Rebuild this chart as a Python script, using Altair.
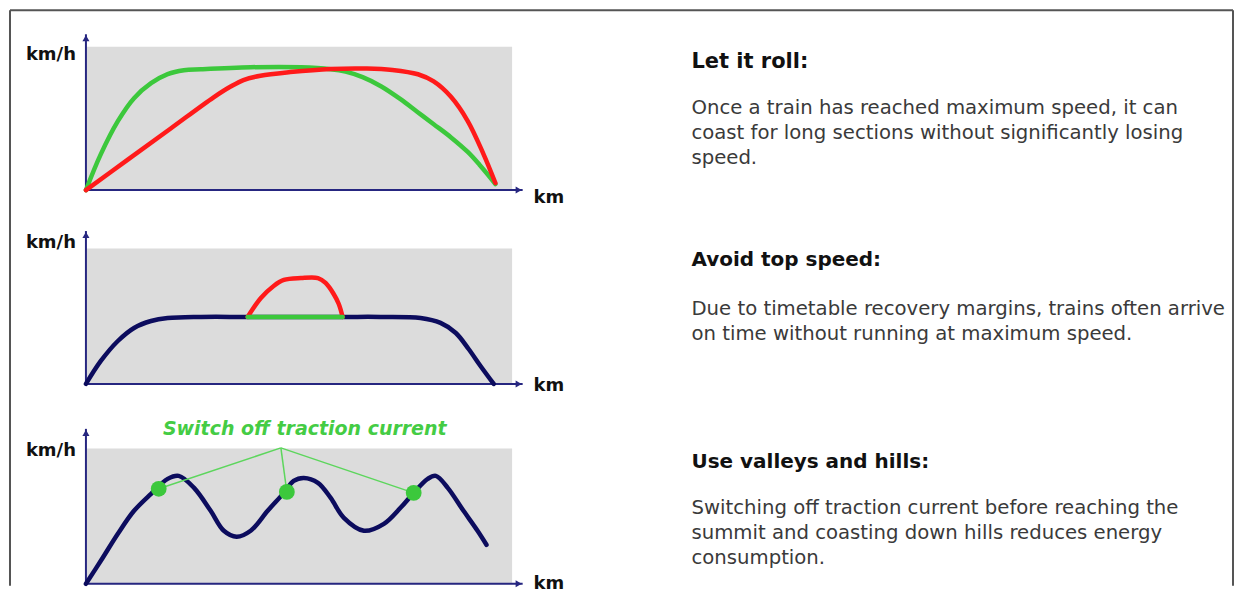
import altair as alt
import pandas as pd

# ---------------- data ----------------
# Panel 1: "Let it roll" - two speed profiles (km vs km/h, relative units 0-100)
p1_green_km = [0, 3.5, 7.5, 11.3, 15.3, 19.2, 23, 27, 38.7, 50.5, 57.5, 61, 65, 69.3, 73.9,
               77.8, 81.7, 85.7, 89.7, 92.5, 94.5, 96.2]
p1_green_v = [0, 25, 47.9, 63.9, 74.3, 80.6, 83.3, 84, 85.4, 85.4, 84, 82.3, 78.5, 72.2, 63.2,
              54.5, 45.8, 36.8, 26.5, 17.5, 10.5, 4.2]
p1_red_km = [0, 10, 20, 30, 34, 37, 41, 48, 57.5, 66, 72, 78, 81.7, 85.7, 89.7, 93.4, 96.2]
p1_red_v = [0, 21.5, 43, 64.5, 72, 76.5, 79.5, 82, 84.2, 84.5, 83.5, 80.5, 75.5, 65, 48, 25, 4.9]

# Panel 2: "Avoid top speed"
p2_base_km = [0, 3.5, 7.5, 11.3, 15.3, 19.2, 27, 38, 60.3, 69.2, 78.6, 83.3, 86.9, 89.9, 92.7, 95.8]
p2_base_v = [0, 16.9, 31.6, 41.2, 46.3, 48.5, 49.3, 49.3, 49.3, 49.3, 48.5, 44.9, 37.5, 25.7, 13.2, 0]
p2_top_km = [38, 41.1, 44.1, 46.5, 50.5, 54.5, 56.3, 58.2, 59.4, 60.3]
p2_top_v = [49.3, 63.2, 72.1, 76.5, 77.9, 77.9, 74.3, 66.2, 58.8, 49.3]
p2_coast_km = [38, 60.3]
p2_coast_v = [49.3, 49.3]

# Panel 3: "Use valleys and hills"
p3_km = [0, 3.5, 7.5, 11.3, 15.3, 19.2, 21.8, 25.4, 29.3, 32.4, 35.4, 38.7, 42.7, 46.5, 48.8,
         51.2, 54.5, 57.5, 60.6, 65.3, 70, 73.9, 77, 80.3, 82.2, 85, 88.7, 92, 94.1]
p3_v = [0, 16.9, 36.8, 53.7, 66.2, 77.2, 79.4, 70.6, 53.7, 39, 34.6, 39, 53.7, 66.9, 75.7,
        77.9, 74.3, 63.2, 48.5, 39, 44.1, 55.9, 66.9, 77.2, 79.4, 70.6, 53.7, 39, 28.7]
p3_switch_km = [17.1, 47.2, 77]
p3_switch_v = [69.9, 67.6, 66.9]
p3_hub_km = 45.8
p3_hub_v = 100
p3_label_km = 51.4
p3_label_v = 114

# Axis extents (arrow tips) per panel
y_tips = [108.3, 112.5, 114]
x_tip = 102.6

# Texts
y_label = "km/h"
x_label = "km"
annotation = "Switch off traction current"
headings = ["Let it roll:", "Avoid top speed:", "Use valleys and hills:"]
bodies = [
    ["Once a train has reached maximum speed, it can",
     "coast for long sections without significantly losing",
     "speed."],
    ["Due to timetable recovery margins, trains often arrive",
     "on time without running at maximum speed."],
    ["Switching off traction current before reaching the",
     "summit and coasting down hills reduces energy",
     "consumption."],
]

# ---------------- styling ----------------
NAVY = "#0c0c5e"
AXIS = "#262680"
GREEN = "#3cc83c"
RED = "#ff1a1a"
LABEL_GREEN = "#44cc44"
FRAME = "#555555"
FONT = "DejaVu Sans"

W = 426
H1, H2, H3 = 144, 136, 136

XS = alt.Scale(domain=[0, 100], nice=False, zero=False)
YS = alt.Scale(domain=[0, 100], nice=False, zero=False)
ONE = pd.DataFrame({"d": [0]})


def X(f):
    return alt.X(f"{f}:Q", scale=XS, axis=None)


def Y(f):
    return alt.Y(f"{f}:Q", scale=YS, axis=None)


def curve(xs, ys, color, width=4.5, interp="catmull-rom"):
    df = pd.DataFrame({"km": xs, "v": ys, "i": list(range(len(xs)))})
    return alt.Chart(df).mark_line(
        color=color, strokeWidth=width, interpolate=interp,
        strokeCap="round", strokeJoin="round"
    ).encode(x=X("km"), y=Y("v"), order="i:Q")


def axes(top):
    ydf = pd.DataFrame({"km": [0], "v0": [0], "v1": [top]})
    yrule = alt.Chart(ydf).mark_rule(color=AXIS, strokeWidth=2).encode(
        x=X("km"), y=Y("v0"), y2="v1")
    xdf = pd.DataFrame({"k0": [0], "k1": [x_tip], "v": [0]})
    xrule = alt.Chart(xdf).mark_rule(color=AXIS, strokeWidth=2).encode(
        x=X("k0"), x2="k1", y=Y("v"))
    up = alt.Chart(pd.DataFrame({"km": [0], "v": [top]})).mark_point(
        shape="triangle-up", filled=True, size=50, color=AXIS, opacity=1, yOffset=4
    ).encode(x=X("km"), y=Y("v"))
    right = alt.Chart(pd.DataFrame({"km": [x_tip], "v": [0]})).mark_point(
        shape="triangle-right", filled=True, size=50, color=AXIS, opacity=1, xOffset=-4
    ).encode(x=X("km"), y=Y("v"))
    return [yrule, xrule, up, right]


def text(t, x, y, size, color, weight="normal", align="left", **kw):
    return alt.Chart(ONE).mark_text(
        align=align, baseline="alphabetic", fontSize=size, fontWeight=weight,
        font=FONT, color=color, lineHeight=25, **kw
    ).encode(x=alt.value(x), y=alt.value(y), text=alt.value(t))


def axis_labels(ky, kx):
    return [text(y_label, -10, ky, 18, "#111111", "bold", "right"),
            text(x_label, 448, kx, 18, "#111111", "bold")]


def right_text(i, hy, by, hsize):
    return [text(headings[i], 606, hy, hsize, "#111111", "bold"),
            text(bodies[i], 606, by, 19.7, "#3a3a3a")]


# frame around the whole picture (drawn from panel 1)
frame = [
    alt.Chart(ONE).mark_rule(color=FRAME, strokeWidth=2).encode(
        x=alt.value(-76), x2=alt.value(1148), y=alt.value(-36)),
    alt.Chart(ONE).mark_rule(color=FRAME, strokeWidth=2).encode(
        x=alt.value(-76), y=alt.value(-36), y2=alt.value(540)),
    alt.Chart(ONE).mark_rule(color=FRAME, strokeWidth=2).encode(
        x=alt.value(1148), y=alt.value(-36), y2=alt.value(540)),
]

# ---------------- panel 1 ----------------
panel1 = alt.layer(
    *frame,
    *axes(y_tips[0]),
    curve(p1_green_km, p1_green_v, GREEN),
    curve(p1_red_km, p1_red_v, RED),
    *axis_labels(14, 157),
    *right_text(0, 22, 68, 21),
).properties(width=W, height=H1)

# ---------------- panel 2 ----------------
panel2 = alt.layer(
    *axes(y_tips[1]),
    curve(p2_base_km, p2_base_v, NAVY),
    curve(p2_top_km, p2_top_v, RED),
    curve(p2_coast_km, p2_coast_v, GREEN, interp="linear"),
    *axis_labels(0, 143),
    *right_text(1, 18, 67, 20),
).properties(width=W, height=H2)

# ---------------- panel 3 ----------------
lead_df = pd.DataFrame({
    "k0": [p3_hub_km] * len(p3_switch_km), "v0": [p3_hub_v] * len(p3_switch_km),
    "k1": p3_switch_km, "v1": p3_switch_v,
})
leaders = alt.Chart(lead_df).mark_rule(color="#5cd65c", strokeWidth=1.5).encode(
    x=X("k0"), y=Y("v0"), x2="k1", y2="v1")
dots = alt.Chart(pd.DataFrame({"km": p3_switch_km, "v": p3_switch_v})).mark_circle(
    size=250, color=GREEN, opacity=1).encode(x=X("km"), y=Y("v"))
ann = alt.Chart(pd.DataFrame({"km": [p3_label_km], "v": [p3_label_v], "t": [annotation]})).mark_text(
    fontSize=19, fontWeight="bold", fontStyle="italic", font=FONT, color=LABEL_GREEN,
    align="center", baseline="middle"
).encode(x=X("km"), y=Y("v"), text="t:N")

panel3 = alt.layer(
    *axes(y_tips[2]),
    curve(p3_km, p3_v, NAVY),
    leaders,
    dots,
    ann,
    *axis_labels(8, 141),
    *right_text(2, 20, 66, 20),
).properties(width=W, height=H3)

lower = alt.vconcat(panel2, panel3, spacing=64, bounds="flush")
chart = alt.vconcat(panel1, lower, spacing=58, bounds="flush").properties(
    padding=0
).configure_view(fill="#dcdcdc", stroke="transparent")

chart.save("out.html", embed_options={"renderer": "svg", "actions": False})
